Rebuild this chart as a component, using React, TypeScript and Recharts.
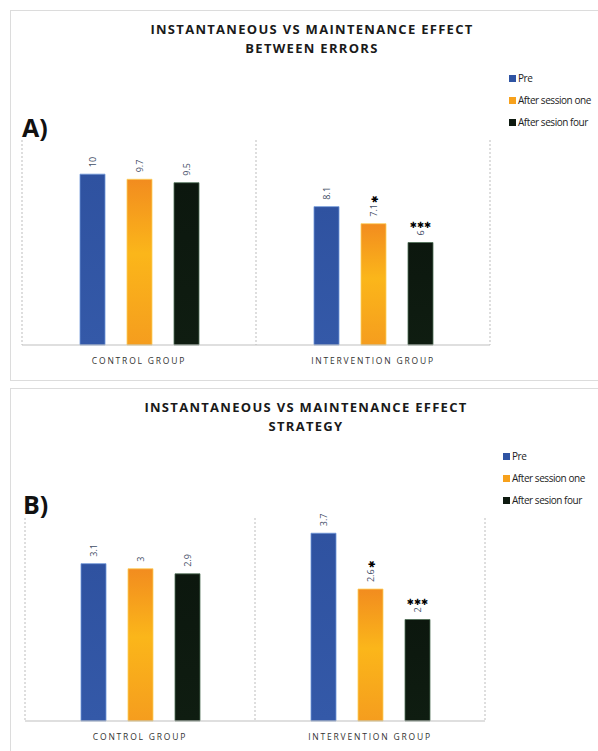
import { BarChart, Bar, XAxis, YAxis, CartesianGrid } from "recharts";

const groups = ["CONTROL GROUP", "INTERVENTION GROUP"];
const seriesNames = ["Pre", "After session one", "After sesion four"];
const errorsPre = [10, 8.1];
const errorsOne = [9.7, 7.1];
const errorsFour = [9.5, 6];
const strategyPre = [3.1, 3.7];
const strategyOne = [3, 2.6];
const strategyFour = [2.9, 2];
const sigOne = ["", "*"];
const sigFour = ["", "***"];

const legendColors = ["#2f54a3", "#f7a11c", "#0e1a10"];
const fills = ["url(#gBlue)", "url(#gOrange)", "url(#gBlack)"];
const strokes = ["#6d95d8", "#fccf5a", "#4e6e55"];

const rows = (pre, one, four) =>
  groups.map((g, i) => ({ group: g, pre: pre[i], one: one[i], four: four[i] }));

const dataA = rows(errorsPre, errorsOne, errorsFour);
const dataB = rows(strategyPre, strategyOne, strategyFour);

const valueLabel = (marks) => (props) => {
  const { x, y, width, value, index } = props;
  const cx = x + width / 2;
  const top = y - 7;
  const mark = marks[index] || "";
  const len = String(value).length * 4.8;
  return (
    <g>
      <text
        transform={`translate(${cx},${top}) rotate(-90)`}
        textAnchor="start"
        dominantBaseline="central"
        fontSize={9}
        fill="#3f4d66"
        fontFamily="'Open Sans', sans-serif"
      >
        {value}
        {mark === "*" && (
          <tspan fill="#000" fontSize={9} dx={1}>
            ✱
          </tspan>
        )}
      </text>
      {mark === "***" && (
        <text
          x={cx}
          y={top - len - 3}
          textAnchor="middle"
          fontSize={8.5}
          fill="#000"
          fontFamily="'DejaVu Sans', sans-serif"
        >
          ✱✱✱
        </text>
      )}
    </g>
  );
};

const CategoryTick = (props) => {
  const { x, y, payload } = props;
  return (
    <text
      x={x}
      y={y + 17}
      textAnchor="middle"
      fontSize={8.5}
      letterSpacing={1.8}
      fill="#333"
      fontFamily="'Open Sans', sans-serif"
    >
      {payload.value}
    </text>
  );
};

function LegendBox({ left, top }) {
  return (
    <div style={{ position: "absolute", left, top }}>
      {seriesNames.map((name, i) => (
        <div
          key={name}
          style={{
            height: 22,
            display: "flex",
            alignItems: "center",
            fontFamily: "'Open Sans', sans-serif",
            fontSize: 10,
            letterSpacing: -0.45,
            color: "#222",
            whiteSpace: "nowrap",
          }}
        >
          <span
            style={{
              width: 7,
              height: 7,
              background: legendColors[i],
              marginRight: 2,
              display: "inline-block",
            }}
          />
          {name}
        </div>
      ))}
    </div>
  );
}

const separators = ({ offset }) => [
  offset.left,
  offset.left + offset.width / 2,
  offset.left + offset.width,
];

function Panel({ data, yMax, height, margin }) {
  return (
    <BarChart width={598} height={height} data={data} margin={margin} barSize={25} barGap={22}>
      <CartesianGrid
        horizontal={false}
        vertical
        stroke="#bdbdbd"
        strokeDasharray="2 2"
        verticalCoordinatesGenerator={separators}
      />
      <XAxis
        dataKey="group"
        axisLine={{ stroke: "#bfbfbf" }}
        tickLine={false}
        tickSize={0}
        height={20}
        interval={0}
        tick={<CategoryTick />}
      />
      <YAxis hide width={0} domain={[0, yMax]} />
      <Bar dataKey="pre" name={seriesNames[0]} fill={fills[0]} stroke={strokes[0]} strokeWidth={0.8} isAnimationActive={false} label={valueLabel(["", ""])} />
      <Bar dataKey="one" name={seriesNames[1]} fill={fills[1]} stroke={strokes[1]} strokeWidth={0.8} isAnimationActive={false} label={valueLabel(sigOne)} />
      <Bar dataKey="four" name={seriesNames[2]} fill={fills[2]} stroke={strokes[2]} strokeWidth={0.8} isAnimationActive={false} label={valueLabel(sigFour)} />
    </BarChart>
  );
}

const titleStyle = {
  position: "absolute",
  left: 0,
  width: 624,
  textAlign: "center",
  fontFamily: "'Open Sans', sans-serif",
  fontWeight: 700,
  fontSize: 13,
  lineHeight: "19px",
  letterSpacing: 1.3,
  color: "#1a1a1a",
};

const letterStyle = {
  position: "absolute",
  fontFamily: "'Open Sans', sans-serif",
  fontWeight: 700,
  fontSize: 25,
  lineHeight: "25px",
  color: "#111",
};

export default function App() {
  return (
    <div style={{ position: "absolute", left: 0, top: 0, width: 598, height: 751, overflow: "hidden", background: "#fff" }}>
      <svg width={0} height={0} style={{ position: "absolute" }}>
        <defs>
          <linearGradient id="gBlue" x1="0" y1="0" x2="0" y2="1">
            <stop offset="0%" stopColor="#2f52a0" />
            <stop offset="100%" stopColor="#3459a8" />
          </linearGradient>
          <linearGradient id="gOrange" x1="0" y1="0" x2="0" y2="1">
            <stop offset="0%" stopColor="#f28c1f" />
            <stop offset="45%" stopColor="#fbb61a" />
            <stop offset="100%" stopColor="#f59d1e" />
          </linearGradient>
          <linearGradient id="gBlack" x1="0" y1="0" x2="0" y2="1">
            <stop offset="0%" stopColor="#0c170e" />
            <stop offset="100%" stopColor="#0f1d11" />
          </linearGradient>
        </defs>
      </svg>

      <div style={{ position: "absolute", left: 10, top: 10, width: 600, height: 369, border: "1px solid #dcdcdc" }} />
      <div style={{ position: "absolute", left: 10, top: 388, width: 600, height: 400, border: "1px solid #dcdcdc" }} />

      <div style={{ position: "absolute", left: 0, top: 0 }}>
        <Panel
          data={dataA}
          yMax={12}
          height={380}
          margin={{ top: 140, right: 108, bottom: 15, left: 22 }}
        />
      </div>
      <div style={{ ...titleStyle, top: 20 }}>
        INSTANTANEOUS VS MAINTENANCE EFFECT
        <br />
        BETWEEN ERRORS
      </div>
      <div style={{ ...letterStyle, left: 22, top: 115 }}>A)</div>
      <LegendBox left={509} top={67} />

      <div style={{ position: "absolute", left: 0, top: 385 }}>
        <Panel
          data={dataB}
          yMax={4}
          height={366}
          margin={{ top: 133, right: 113, bottom: 10, left: 25 }}
        />
      </div>
      <div style={{ ...titleStyle, left: -6, top: 398 }}>
        INSTANTANEOUS VS MAINTENANCE EFFECT
        <br />
        STRATEGY
      </div>
      <div style={{ ...letterStyle, left: 23, top: 492 }}>B)</div>
      <LegendBox left={503} top={445} />
    </div>
  );
}
